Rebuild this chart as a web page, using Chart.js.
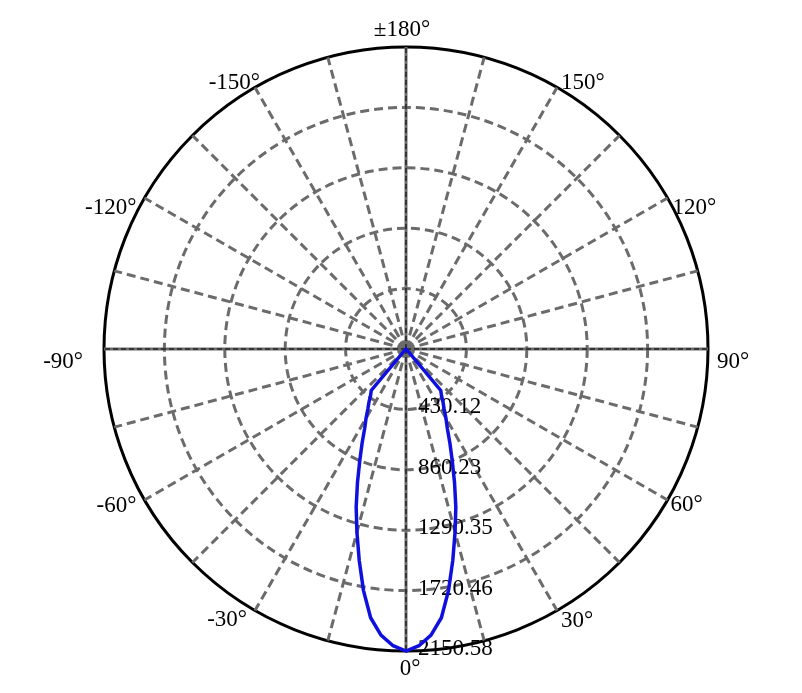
<!DOCTYPE html>
<html>
<head>
<meta charset="utf-8">
<script src="https://cdn.jsdelivr.net/npm/chart.js@4.4.0/dist/chart.umd.min.js"></script>
<style>
  body { margin: 0; background: #fff; }
</style>
</head>
<body>
<canvas id="polar" width="802" height="693"></canvas>
<script>
// gamma angle (deg) -> luminous intensity (cd); the same curve is mirrored to the negative side
const gammaAngles = [0, 2.5, 5, 7.5, 10, 12.5, 15, 17.5, 20, 22.5, 25, 27.5, 30, 32.5, 35, 37.5, 40, 42.5, 45,
  47.5, 50, 52.5, 55, 57.5, 60, 62.5, 65, 67.5, 70, 72.5, 75, 77.5, 80, 82.5, 85, 87.5, 90,
  92.5, 95, 97.5, 100, 102.5, 105, 107.5, 110, 112.5, 115, 117.5, 120, 122.5, 125, 127.5, 130, 132.5, 135,
  137.5, 140, 142.5, 145, 147.5, 150, 152.5, 155, 157.5, 160, 162.5, 165, 167.5, 170, 172.5, 175, 177.5, 180];
const intensity = [2150.58, 2115, 2045, 1930, 1745, 1540, 1350, 1180, 1010, 860, 740, 637, 569, 505, 459, 414, 385, 25, 0,
  0, 0, 0, 0, 0, 0, 0, 0, 0, 0, 0, 0, 0, 0, 0, 0, 0, 0,
  0, 0, 0, 0, 0, 0, 0, 0, 0, 0, 0, 0, 0, 0, 0, 0, 0, 0,
  0, 0, 0, 0, 0, 0, 0, 0, 0, 0, 0, 0, 0, 0, 0, 0, 0, 0];
const ringValues = [430.12, 860.23, 1290.35, 1720.46, 2150.58];
const step = 2.5;
const labelEvery = 30;
const spokeEvery = 15;

const GRAY = '#6b6b6b';
const FONT = '"Liberation Serif", "DejaVu Serif", serif';
const FONT_SIZE = 23;

// small hand nudges for the angle labels: gap off the circle, vertical shift
const labelNudge = {
  '0': [4, 18], '180': [-4, -17],
  '30': [4, 10], '60': [3, 5], '90': [9, 13], '120': [5, 10], '150': [4, -5],
  '-30': [8, 9], '-60': [8, 6], '-90': [21, 13], '-120': [8, 10], '-150': [-5, -5]
};

// clockwise from the bottom: 0, -2.5 ... ±180 ... 2.5
const count = Math.round(360 / step);
const half = count / 2;
const labels = [];
const values = [];
const signedAngles = [];
for (let i = 0; i < count; i++) {
  const signed = i <= half ? -step * i : 360 - step * i;
  const gamma = Math.abs(signed);
  signedAngles.push(gamma === 180 ? 180 : signed);
  labels.push(signed === 0 ? '0°' : (gamma === 180 ? '±180°' : signed + '°'));
  values.push(intensity[gammaAngles.indexOf(gamma)]);
}
const angleOf = i => step * i;

const overlay = {
  id: 'overlay',
  beforeDatasetsDraw(chart) {
    const s = chart.scales.r;
    const ctx = chart.ctx;
    const far = s.getDistanceFromCenterForValue(s.max);
    ctx.save();
    // thin black dashes over the 0/180 and ±90 lines
    ctx.strokeStyle = '#000';
    ctx.lineWidth = 1;
    ctx.setLineDash([5, 3]);
    for (let i = 0; i < count; i++) {
      if (angleOf(i) % 90 !== 0) continue;
      const p = s.getPointPosition(i, far);
      ctx.beginPath();
      ctx.moveTo(s.xCenter, s.yCenter);
      ctx.lineTo(p.x, p.y);
      ctx.stroke();
    }
    ctx.setLineDash([]);
    ctx.fillStyle = '#000';
    ctx.font = FONT_SIZE + 'px ' + FONT;

    // ring values along the 0 deg line
    ctx.textAlign = 'left';
    ctx.textBaseline = 'middle';
    ringValues.forEach(v => {
      const p = s.getPointPosition(0, s.getDistanceFromCenterForValue(v));
      ctx.fillText(v.toFixed(2), p.x + 12, p.y - 2);
    });

    // angle labels just outside the circle
    for (let i = 0; i < count; i++) {
      if (angleOf(i) % labelEvery !== 0) continue;
      const sx = Math.sin(s.getIndexAngle(i));
      const p = s.getPointPosition(i, far);
      const [gap, dy] = labelNudge[String(signedAngles[i])];
      if (Math.abs(sx) < 0.01) {
        ctx.textAlign = 'center';
        ctx.fillText(labels[i], p.x + gap, p.y + dy);
      } else {
        ctx.textAlign = sx > 0 ? 'left' : 'right';
        ctx.fillText(labels[i], p.x + Math.sign(sx) * gap, p.y + dy);
      }
    }
    ctx.restore();
  }
};

new Chart(document.getElementById('polar'), {
  type: 'radar',
  data: {
    labels: labels,
    datasets: [{
      data: values,
      borderColor: 'rgb(16,16,222)',
      borderWidth: 3.5,
      fill: false,
      pointRadius: 0,
      tension: 0
    }]
  },
  options: {
    responsive: false,
    animation: false,
    layout: { padding: { top: 47, bottom: 42, left: 104, right: 94 } },
    plugins: { legend: { display: false }, tooltip: { enabled: false } },
    scales: {
      r: {
        startAngle: 180,
        min: 0,
        max: ringValues[ringValues.length - 1],
        afterBuildTicks: scale => {
          scale.ticks = [0].concat(ringValues).map(v => ({ value: v }));
        },
        ticks: { display: false },
        grid: {
          circular: true,
          lineWidth: 3,
          color: c => c.index === ringValues.length ? '#000' : GRAY
        },
        border: {
          dash: c => c.index === ringValues.length ? [] : [9, 5]
        },
        angleLines: {
          color: GRAY,
          lineWidth: c => angleOf(c.index) % spokeEvery === 0 ? 3 : 0,
          borderDash: c => angleOf(c.index) % 90 === 0 ? [] : [9, 5]
        },
        pointLabels: {
          display: false,
          callback: (label, i) => angleOf(i) % labelEvery === 0 ? label : ''
        }
      }
    }
  },
  plugins: [overlay]
});
</script>
</body>
</html>
